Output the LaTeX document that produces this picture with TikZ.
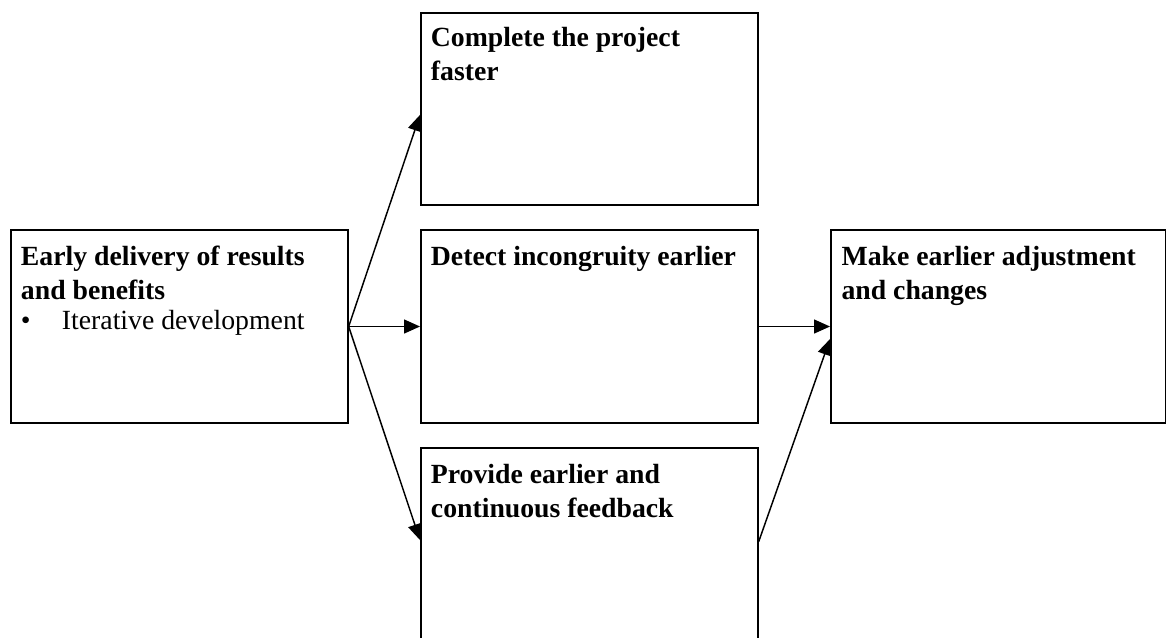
\documentclass[tikz,border=0pt]{standalone}
\usepackage{fontspec}
\setmainfont{Liberation Serif}
\usetikzlibrary{arrows.meta}
\begin{document}
\begin{tikzpicture}[x=0.75pt,y=-0.75pt,
  box/.style={draw, line width=1.5pt, anchor=north west,
    minimum width=252.5pt, minimum height=144.3pt, inner sep=0pt},
  % multi-line captions are placed by the baseline of their last line
  caption/.style={anchor=base west, inner sep=0pt, align=left,
    font=\fontsize{20.8pt}{25.5pt}\selectfont\bfseries},
  plain/.style={anchor=base west, inner sep=0pt,
    font=\fontsize{20.8pt}{25.5pt}\selectfont},
  link/.style={-{Triangle[length=12pt,width=10.5pt]}, line width=1.1pt}]
\useasboundingbox (0,0) rectangle (1166,637);
\clip (0,0) rectangle (1166,637);

% boxes
\node[box] (L) at (10,229.3) {};
\node[box] (T) at (420,11.7) {};
\node[box] (M) at (420,229.3) {};
\node[box, minimum height=150pt] (B) at (420,446.7) {};
\node[box, minimum width=251.3pt] (R) at (830,229.3) {};

% box texts
\node[caption] (Ltxt) at (20.7,299.7) {Early delivery of results\\and benefits};
\node[plain] (Lbul) at (20.7,329.5) {\textbullet};
\node[plain] (Litem) at (61.7,329.5) {Iterative development};
\node[caption] (Ttxt) at (430.7,80.7) {Complete the project\\faster};
\node[caption] (Mtxt) at (430.7,265.7) {Detect incongruity earlier};
\node[caption] (Btxt) at (430.7,517.3) {Provide earlier and\\continuous feedback};
\node[caption] (Rtxt) at (841.3,299.7) {Make earlier adjustment\\and changes};

% connectors
\draw[link] (L.east) -- ([yshift=-4.5pt]T.west);
\draw[link] (L.east) -- (M.west);
\draw[link] (L.east) -- ([yshift=-70pt]B.north west);
\draw[link] (M.east) -- (R.west);
\draw[link] ([yshift=-71.25pt]B.north east) -- ([yshift=-9.4pt]R.west);
\end{tikzpicture}
\end{document}
